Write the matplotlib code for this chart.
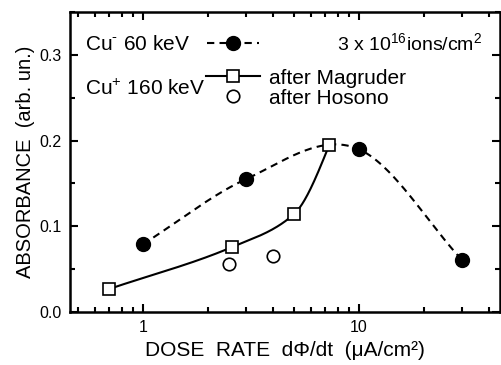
import numpy as np
import matplotlib
matplotlib.use('Agg')
import matplotlib.pyplot as plt
from matplotlib.lines import Line2D
from matplotlib.ticker import FixedLocator, NullFormatter, MultipleLocator

plt.rcParams['font.family'] = ['Liberation Sans', 'DejaVu Sans']
plt.rcParams['mathtext.fontset'] = 'custom'
plt.rcParams['mathtext.rm'] = 'Liberation Sans'

# Cu- 60 keV (filled circles, dashed)
dose_neg = [1.0, 3.0, 10.0, 30.0]
abs_neg = [0.079, 0.155, 0.190, 0.061]
# Cu+ 160 keV after Magruder (open squares, solid)
dose_mag = [0.7, 2.6, 5.0, 7.3]
abs_mag = [0.027, 0.076, 0.114, 0.195]
# Cu+ 160 keV after Hosono (open circles)
dose_hos = [2.5, 4.0]
abs_hos = [0.056, 0.065]


def hermite(lx, y, m, n=60):
    tx, ty = [], []
    for i in range(len(lx) - 1):
        h = lx[i + 1] - lx[i]
        t = np.linspace(0, 1, n)
        h00 = 2 * t**3 - 3 * t**2 + 1
        h10 = t**3 - 2 * t**2 + t
        h01 = -2 * t**3 + 3 * t**2
        h11 = t**3 - t**2
        tx.extend(lx[i] + t * h)
        ty.extend(h00 * y[i] + h10 * h * m[i] + h01 * y[i + 1] + h11 * h * m[i + 1])
    return 10 ** np.array(tx), np.array(ty)


def smooth(xs, ys):
    # cubic hermite with finite-difference slopes, in log-x
    lx = np.log10(xs)
    y = np.asarray(ys, float)
    m = np.gradient(y, lx)
    m[0] = (y[1] - y[0]) / (lx[1] - lx[0])
    m[-1] = (y[-1] - y[-2]) / (lx[-1] - lx[-2])
    return hermite(lx, y, m)


def pchip(xs, ys):
    # monotone cubic (Fritsch-Carlson) in log-x, straight start
    lx = np.log10(xs)
    y = np.asarray(ys, float)
    h = np.diff(lx)
    s = np.diff(y) / h
    m = np.zeros(len(y))
    for k in range(1, len(y) - 1):
        if s[k - 1] * s[k] > 0:
            w1 = 2 * h[k] + h[k - 1]
            w2 = h[k] + 2 * h[k - 1]
            m[k] = (w1 + w2) / (w1 / s[k - 1] + w2 / s[k])
    m[0] = s[0]
    m[-1] = ((2 * h[-1] + h[-2]) * s[-1] - h[-1] * s[-2]) / (h[-1] + h[-2])
    return hermite(lx, y, m)


fig = plt.figure(figsize=(5.01, 3.65), dpi=100)
ax = fig.add_axes([0.1397, 0.145, 0.858, 0.822])

dash = (0, (3.5, 2.5))
xs, ys = smooth(dose_neg, abs_neg)
ax.plot(xs, ys, color='black', linestyle=dash, linewidth=1.5)
ax.plot(dose_neg, abs_neg, 'o', color='black', markersize=10)

xs, ys = pchip(dose_mag, abs_mag)
ax.plot(xs, ys, color='black', linewidth=1.5)
ax.plot(dose_mag, abs_mag, 's', color='black', markerfacecolor='white',
        markersize=9, markeredgewidth=1.2)

ax.plot(dose_hos, abs_hos, 'o', color='black', markerfacecolor='white',
        markersize=9, markeredgewidth=1.2)

ax.set_xscale('log')
ax.set_xlim(0.46, 45)
ax.set_ylim(0, 0.35)
ax.xaxis.set_major_locator(FixedLocator([1, 10]))
ax.set_xticklabels(['1', '10'])
minors = [v * d for d in (0.1, 1, 10) for v in range(2, 10)]
ax.xaxis.set_minor_locator(FixedLocator(minors))
ax.xaxis.set_minor_formatter(NullFormatter())
ax.yaxis.set_minor_locator(MultipleLocator(0.05))
ax.set_yticks([0.0, 0.1, 0.2, 0.3])
ax.set_yticklabels(['0.0', '0.1', '0.2', '0.3'])

ax.tick_params(which='both', direction='in', top=True, right=True, width=1.5,
               labelsize=11.5, pad=6)
ax.tick_params(which='major', length=6)
ax.tick_params(which='minor', length=3.5)
for s in ax.spines.values():
    s.set_linewidth(1.8)

ax.set_xlabel('DOSE  RATE  d\u03a6/dt  (\u03bcA/cm\u00b2)', fontsize=15, labelpad=4)
ax.set_ylabel('ABSORBANCE  (arb. un.)', fontsize=14.5, labelpad=3)

h_neg = Line2D([], [], color='black', linestyle=dash, linewidth=1.5,
               marker='o', markersize=10)
leg1 = ax.legend([h_neg], [r'Cu$^{\text{-}}$ 60 keV'], loc='upper left',
                 bbox_to_anchor=(0.0, 0.972), frameon=False, markerfirst=False,
                 handlelength=2.5, handletextpad=0.85, fontsize=15,
                 borderaxespad=0.3)
ax.add_artist(leg1)

h_mag = Line2D([], [], color='black', linewidth=1.5, marker='s',
               markerfacecolor='white', markersize=9, markeredgewidth=1.2)
h_hos = Line2D([], [], color='black', linestyle='none', marker='o',
               markerfacecolor='white', markersize=9, markeredgewidth=1.2)
ax.legend([h_mag, h_hos], ['after Magruder', 'after Hosono'], loc='upper left',
          bbox_to_anchor=(0.283, 0.86), frameon=False, handlelength=2.6,
          handletextpad=0.4, fontsize=15, labelspacing=0.05, borderaxespad=0.3)

ax.text(0.035, 0.745, r'Cu$^{+}$ 160 keV', transform=ax.transAxes, fontsize=15,
        va='center', ha='left')
ax.text(0.96, 0.895, r'3 x 10$^{16}$ions/cm$^2$', transform=ax.transAxes,
        fontsize=14, va='center', ha='right')

fig.savefig('out.png', dpi=100)
